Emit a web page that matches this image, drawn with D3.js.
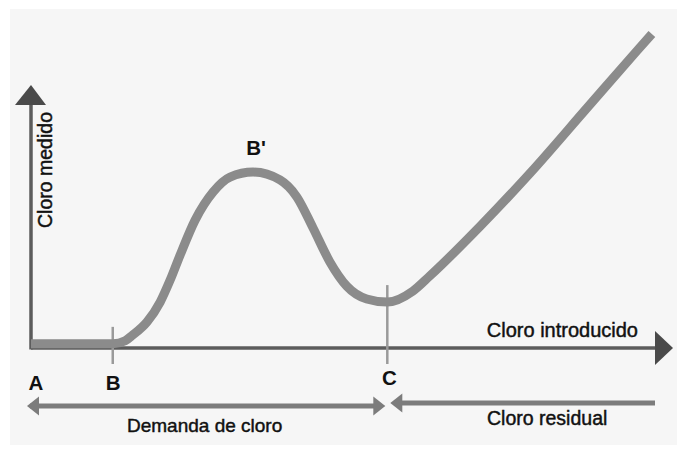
<!DOCTYPE html>
<html>
<head>
<meta charset="utf-8">
<script src="https://cdn.jsdelivr.net/npm/d3@7"></script>
<style>
  html, body { margin: 0; padding: 0; background: #ffffff; }
  svg { display: block; }
  text { font-family: "Liberation Sans", Arial, sans-serif; fill: #111; }
  text.reg { stroke: #111; stroke-width: 0.45px; }
</style>
</head>
<body>
<svg id="chart" width="677" height="449"></svg>
<script>
// ---- data (chart units: x = cloro introducido, y = cloro medido) ----
const curveX = [0, 13.1, 15.1, 16.3, 18.6, 20.7, 22.3, 23.9, 26.3, 29.2, 31.9, 35.6, 39.9, 42.6, 45.2, 47.9, 50.6, 53.8, 57.1, 61.2, 63.9, 72.0, 80.0, 89.1, 97.1, 99.5];
const curveY = [1.0, 1.0, 2.0, 3.8, 8.0, 14.3, 21.3, 29.3, 40.4, 49.4, 54.1, 55.7, 53.2, 47.8, 37.9, 27.1, 19.4, 15.3, 14.3, 17.8, 22.6, 38.5, 55.4, 76.1, 94.3, 99.7];
const pointLabels = ["A", "B", "C"];
const pointX = [0, 13.1, 57.1];
const peakLabel = "B'";
const peakX = 35.6;
const peakY = 55.7;
const xAxisTitle = "Cloro introducido";
const yAxisTitle = "Cloro medido";
const demandLabel = "Demanda de cloro";
const residualLabel = "Cloro residual";

const svg = d3.select("#chart");
// background panel
svg.append("rect").attr("x", 10).attr("y", 9).attr("width", 667).attr("height", 436).attr("fill", "#f6f6f6");

const x = d3.scaleLinear().domain([0, 100]).range([31, 655]);
const y = d3.scaleLinear().domain([0, 100]).range([347, 33]);

const axisColor = "#5c5c5c";
const curveColor = "#8b8b8b";
const arrowColor = "#7c7c7c";

// ---- axes ----
const y0 = y(0) + 1;
svg.append("line").attr("x1", x(0)).attr("y1", y0).attr("x2", x(100)).attr("y2", y0)
  .attr("stroke", axisColor).attr("stroke-width", 3.5);
svg.append("path").attr("d", d3.line()([[x(100), y0 - 17], [x(100) + 18, y0], [x(100), y0 + 17]]) + "Z")
  .attr("fill", "#4a4a4a");
svg.append("line").attr("x1", x(0)).attr("y1", y0 + 1.5).attr("x2", x(0)).attr("y2", 104)
  .attr("stroke", axisColor).attr("stroke-width", 3.5);
svg.append("path").attr("d", d3.line()([[x(0) - 16, 105], [x(0), 85], [x(0) + 15, 105]]) + "Z")
  .attr("fill", "#4a4a4a");

// ---- marker ticks at B and C ----
const tickIdx = [1, 2];
tickIdx.forEach(i => {
  const xv = pointX[i];
  const j = curveX.indexOf(xv);
  const cy = y(curveY[j]);
  svg.append("line").attr("x1", x(xv)).attr("x2", x(xv))
    .attr("y1", cy - 17).attr("y2", y0 + 16)
    .attr("stroke", "#9a9a9a").attr("stroke-width", 2.5);
});

// ---- curve ----
const pts = curveX.map((d, i) => [d, curveY[i]]);
const line = d3.line().x(d => x(d[0])).y(d => y(d[1])).curve(d3.curveMonotoneX);
svg.append("path").datum(pts).attr("d", line)
  .attr("fill", "none").attr("stroke", curveColor).attr("stroke-width", 9)
  .attr("stroke-linejoin", "round").attr("stroke-linecap", "butt");

// ---- axis titles ----
svg.append("text").attr("class", "reg").attr("x", 638).attr("y", 337).attr("text-anchor", "end")
  .attr("font-size", 20).text(xAxisTitle);
svg.append("text").attr("class", "reg").attr("transform", "translate(52,228) rotate(-90)")
  .attr("font-size", 19.5).text(yAxisTitle);

// ---- point labels ----
const labelOffsets = [5, 0.5, 2];
const labelBase = [390, 390, 385];
pointLabels.forEach((t, i) => {
  svg.append("text").attr("x", x(pointX[i]) + labelOffsets[i]).attr("y", labelBase[i])
    .attr("text-anchor", "middle").attr("font-size", 20.5).attr("font-weight", "bold").text(t);
});
svg.append("text").attr("x", x(peakX) + 3).attr("y", y(peakY) - 17)
  .attr("text-anchor", "middle").attr("font-size", 20.5).attr("font-weight", "bold").text(peakLabel);

// ---- bottom range arrows ----
function hArrow(xTip, yc, dir) {
  // dir = -1 points left, +1 points right
  const len = 12, hh = 9.5;
  svg.append("path")
    .attr("d", d3.line()([[xTip - dir * len, yc - hh], [xTip, yc], [xTip - dir * len, yc + hh]]) + "Z")
    .attr("fill", arrowColor);
}
const yDem = 406, yRes = 403;
svg.append("line").attr("x1", x(0) - 1).attr("x2", x(pointX[2]) - 10).attr("y1", yDem).attr("y2", yDem)
  .attr("stroke", arrowColor).attr("stroke-width", 5);
hArrow(x(0) - 4, yDem, -1);
hArrow(x(pointX[2]) - 2, yDem, 1);
svg.append("line").attr("x1", x(pointX[2]) + 12).attr("x2", x(100)).attr("y1", yRes).attr("y2", yRes)
  .attr("stroke", arrowColor).attr("stroke-width", 5);
hArrow(x(pointX[2]) + 3, yRes, -1);

svg.append("text").attr("class", "reg").attr("x", 127).attr("y", 432).attr("font-size", 19).text(demandLabel);
svg.append("text").attr("class", "reg").attr("x", 487).attr("y", 425).attr("font-size", 19.5).text(residualLabel);
</script>
</body>
</html>
